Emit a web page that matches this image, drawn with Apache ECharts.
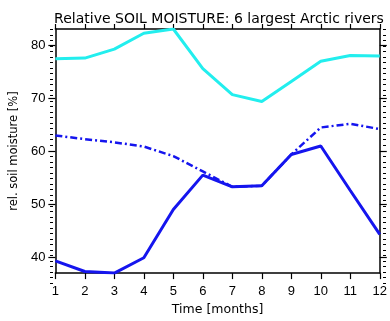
<!DOCTYPE html>
<html>
<head>
<meta charset="utf-8">
<script src="https://cdn.jsdelivr.net/npm/echarts@6/dist/echarts.min.js"></script>
<style>
  html, body { margin: 0; padding: 0; background: #fff; }
  #Chart1 { width: 390px; height: 321px; }
</style>
</head>
<body>
<div id="Chart1"></div>
<script>
// soil moisture, 6 largest arctic rivers
var months = [1, 2, 3, 4, 5, 6, 7, 8, 9, 10, 11, 12];
var cyanLine = [77.5, 77.6, 79.3, 82.3, 83.1, 75.6, 70.7, 69.4, 73.2, 77.0, 78.1, 78.0];
var dashLine = [63.0, 62.3, 61.7, 60.9, 59.1, 56.2, 53.3, 53.5, 59.4, 64.5, 65.2, 64.2];
var solidLine = [39.3, 37.3, 37.0, 39.9, 49.0, 55.5, 53.3, 53.5, 59.4, 61.0, 52.6, 44.3];
var yTicks = [40, 50, 60, 70, 80];
var yMin = 37.0;
var yMax = 83.1;

var yMinor = [];
for (var v = Math.ceil(yMin); v <= yMax; v++) {
  yMinor.push(v);
}

function pairs(arr) {
  return months.map(function (m, i) {
    return [m, arr[i]];
  });
}

var font = "Liberation Sans";
var gridBox = { left: 53, right: 7, top: 29, bottom: 38 };

var Chart1 = echarts.init(document.getElementById("Chart1"));
option = {
  animation: false,
  title: {
    text: "Relative SOIL MOISTURE: 6 largest Arctic rivers",
    left: 214,
    top: 7,
    textAlign: "center",
    textStyle: {
      fontFamily: "DejaVu Sans",
      fontSize: 14,
      fontWeight: "normal",
      color: "#000"
    }
  },
  grid: [
    Object.assign({ show: false }, gridBox),
    Object.assign({ show: false }, gridBox)
  ],
  xAxis: [
    {
      type: "value",
      gridIndex: 0,
      position: "bottom",
      min: 1,
      max: 12,
      interval: 1,
      name: "Time [months]",
      nameLocation: "middle",
      nameGap: 27,
      nameTextStyle: { fontFamily: "DejaVu Sans", fontSize: 12.5, color: "#000" },
      axisLine: { lineStyle: { color: "#000", width: 1.5 } },
      axisTick: { length: 6, lineStyle: { color: "#000", width: 1.2 } },
      axisLabel: { margin: 12, fontFamily: font, fontSize: 13, color: "#000" },
      splitLine: { show: false }
    },
    {
      type: "value",
      gridIndex: 0,
      position: "top",
      min: 1,
      max: 12,
      interval: 1,
      axisLine: { lineStyle: { color: "#000", width: 1.5 } },
      axisTick: { length: 5, lineStyle: { color: "#000", width: 1.2 } },
      axisLabel: { show: false },
      splitLine: { show: false }
    },
    {
      type: "value",
      gridIndex: 1,
      min: 1,
      max: 12,
      show: false
    }
  ],
  yAxis: [
    {
      type: "value",
      gridIndex: 0,
      position: "left",
      min: yMin,
      max: yMax,
      name: "rel. soil moisture [%]",
      nameLocation: "middle",
      nameRotate: 90,
      nameGap: 31,
      nameTextStyle: { fontFamily: "DejaVu Sans", fontSize: 11.5, color: "#000" },
      axisLine: { show: true, lineStyle: { color: "#000", width: 1.5 } },
      axisTick: { show: true, customValues: yTicks, length: 7, lineStyle: { color: "#000", width: 1.2 } },
      axisLabel: { customValues: yTicks, margin: 10, fontFamily: font, fontSize: 13, color: "#000" },
      splitLine: { show: false }
    },
    {
      type: "value",
      gridIndex: 0,
      position: "right",
      min: yMin,
      max: yMax,
      axisLine: { show: true, lineStyle: { color: "#000", width: 1.5 } },
      axisTick: { show: true, customValues: yTicks, length: 7, lineStyle: { color: "#000", width: 1.2 } },
      axisLabel: { show: false },
      splitLine: { show: false }
    },
    {
      type: "value",
      gridIndex: 1,
      position: "left",
      min: yMin,
      max: yMax,
      axisLine: { show: false },
      axisTick: { show: true, customValues: yMinor, length: 3, lineStyle: { color: "#000", width: 1 } },
      axisLabel: { show: false },
      splitLine: { show: false }
    },
    {
      type: "value",
      gridIndex: 1,
      position: "right",
      min: yMin,
      max: yMax,
      axisLine: { show: false },
      axisTick: { show: true, customValues: yMinor, length: 3, lineStyle: { color: "#000", width: 1 } },
      axisLabel: { show: false },
      splitLine: { show: false }
    }
  ],
  series: [
    {
      name: "cyan",
      type: "line",
      xAxisIndex: 0,
      yAxisIndex: 0,
      data: pairs(cyanLine),
      showSymbol: false,
      lineStyle: { color: "#22eeee", width: 3 }
    },
    {
      name: "dashdot",
      type: "line",
      xAxisIndex: 0,
      yAxisIndex: 0,
      data: pairs(dashLine),
      showSymbol: false,
      lineStyle: { color: "#1515ee", width: 2.5, type: [7, 3, 2, 3] }
    },
    {
      name: "solid",
      type: "line",
      xAxisIndex: 0,
      yAxisIndex: 0,
      data: pairs(solidLine),
      showSymbol: false,
      lineStyle: { color: "#1515ee", width: 3 }
    }
  ]
};

Chart1.setOption(option);
</script>
</body>
</html>
